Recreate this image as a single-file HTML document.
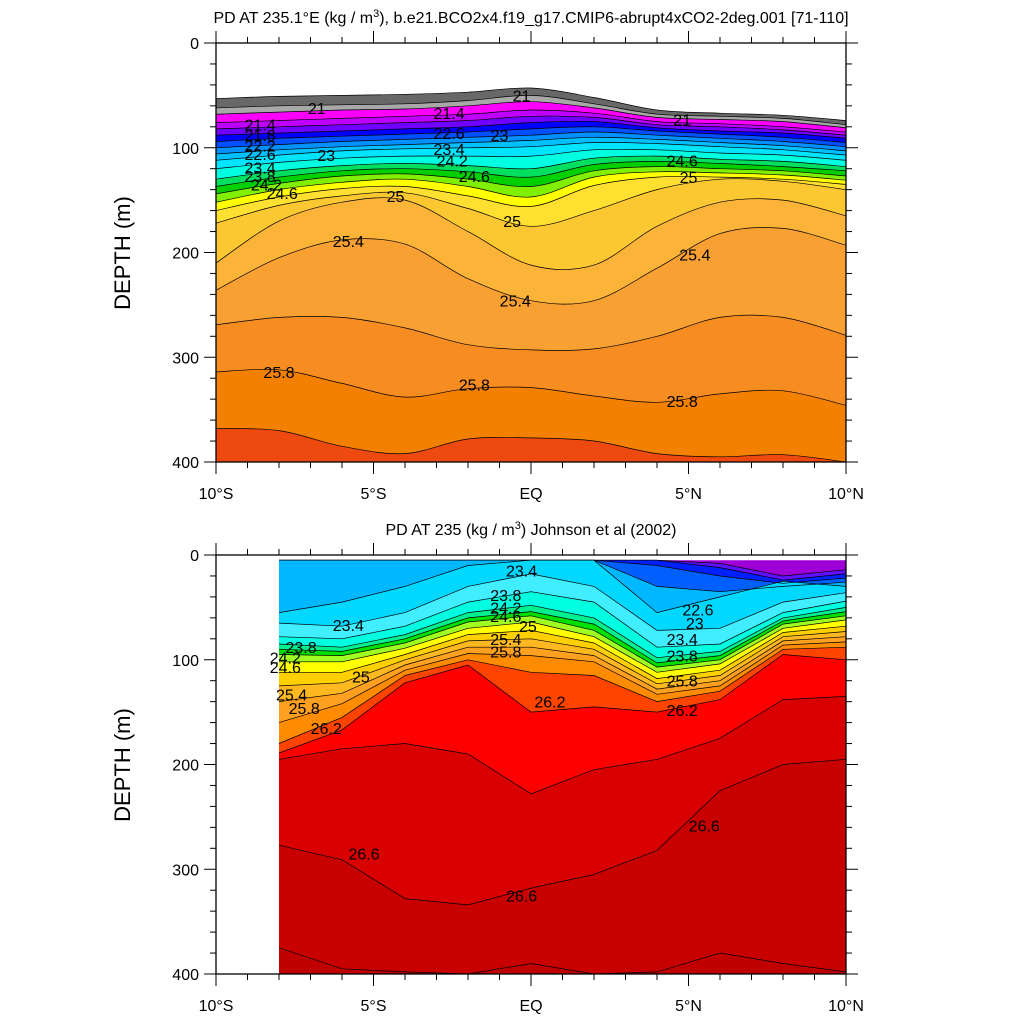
<!DOCTYPE html>
<html><head><meta charset="utf-8">
<style>
body{margin:0;background:#fff;}
svg{display:block;font-family:"Liberation Sans",sans-serif;}
</style></head>
<body>
<svg id="chart" width="1024" height="1024" viewBox="0 0 1024 1024" xmlns="http://www.w3.org/2000/svg">
<rect width="1024" height="1024" fill="#fff"/>
<text x="531" y="23" font-size="16" text-anchor="middle">PD AT 235.1°E (kg / m<tspan dy="-6" font-size="11">3</tspan><tspan dy="6">), b.e21.BCO2x4.f19_g17.CMIP6-abrupt4xCO2-2deg.001 [71-110]</tspan></text>
<text x="531" y="535" font-size="16" text-anchor="middle">PD AT 235 (kg / m<tspan dy="-6" font-size="11">3</tspan><tspan dy="6">) Johnson et al (2002)</tspan></text>
<g id="top"></g>
<g id="bot"></g>
</svg>
<script>
// ---- Top panel (model) data ----
const topLats = [-10,-8,-6,-4,-2,0,2,4,6,8,10];
const topLevels = [20.8,21,21.4,21.8,22.2,22.6,22.8,23,23.2,23.4,23.8,24.2,24.4,24.6,24.8,25,25.1,25.2,25.4,25.6,25.8,26];
const topColors = ['#686868','#a8a8a8','#ff00ff','#c000ff','#7000ff','#0000ff','#0050ff','#0090ff','#00c0ff','#00e4ff','#00ffe0','#00e060','#00d000','#80f000','#ffff00','#ffe030','#fcc832','#fbb437','#f9a033','#f78d20','#f48000','#ee4a10'];
const topDepths = [
 [53,51,50,49,47,43,52,64,67,69,74],
 [62,60,59,58,55,50,58,68,70,72,78],
 [68,66,64,63,60,56,62,71,73,75,81],
 [76,74,72,70,68,64,67,75,77,80,85],
 [82,80,78,76,74,70,71,78,80,83,88],
 [88,86,84,82,80,76,75,81,84,86,91],
 [94,91,89,87,85,82,80,84,87,90,95],
 [100,97,94,92,90,88,85,88,91,94,99],
 [106,102,99,97,95,93,90,92,95,98,103],
 [112,107,103,101,100,99,95,96,99,102,107],
 [120,114,110,108,108,108,102,102,105,107,112],
 [130,122,117,115,117,120,110,108,111,113,118],
 [137,128,122,120,123,128,116,113,115,118,122],
 [144,134,127,125,130,137,122,118,120,122,127],
 [152,140,133,130,137,147,128,123,124,126,131],
 [160,147,139,137,146,156,136,128,128,130,135],
 [172,155,146,143,158,175,160,140,130,132,140],
 [210,170,152,150,180,212,212,175,152,150,165],
 [236,205,188,192,225,246,246,215,182,177,193],
 [269,262,262,272,288,293,292,280,262,262,279],
 [314,312,325,338,330,329,337,343,335,332,346],
 [368,370,385,392,378,377,380,392,395,393,400]
];
// ---- Bottom panel (observations) data ----
const botLats = [-8,-6,-4,-2,0,2,4,6,8,10];
const botLevels = [22.2,22.4,22.6,22.8,23.0,23.2,23.4,23.8,24.2,24.4,24.6,24.8,25.2,25.4,25.6,25.8,26.0,26.2,26.4,26.6,26.8];
const botColors = ['#a000d8','#6010ff','#0020ff','#0060ff','#00b8ff','#00d8ff','#40eeff','#00ffe0','#00f090','#00e000','#a0ff20','#ffff00','#ffd000','#ffb820','#ffa020','#ff8c00','#ff4400','#ff0000','#d80000','#c80000','#c00000'];
const botDepths = [
 [5,5,5,5,5,5,5,5,5,5],
 [5,5,5,5,5,5,5,8,20,14],
 [5,5,5,5,5,5,5,12,24,18],
 [5,5,5,5,5,5,10,20,27,22],
 [5,5,5,5,5,5,30,35,30,26],
 [55,45,30,10,5,5,55,40,25,30],
 [65,68,55,30,18,30,72,70,45,36],
 [78,80,68,45,35,45,88,85,55,44],
 [85,88,76,55,48,60,98,92,60,50],
 [90,92,80,60,54,66,103,96,63,54],
 [95,96,84,64,58,72,107,100,66,58],
 [102,102,89,70,64,78,112,104,70,62],
 [112,112,95,76,72,84,118,110,74,68],
 [125,122,100,82,80,90,123,115,78,73],
 [140,132,105,88,88,96,128,120,82,78],
 [160,142,110,94,96,102,133,125,86,83],
 [180,155,115,100,112,115,140,130,90,88],
 [189,167,122,105,150,145,150,138,95,100],
 [195,185,180,190,228,205,195,175,138,135],
 [277,291,328,334,318,305,282,225,200,195],
 [375,395,398,400,390,400,398,380,390,398]
];
const topLabels = [[-6.8,62,'21'],[-0.3,50,'21'],[-8.6,78,'21.4'],[-8.6,88,'21.8'],[-8.6,98,'22.2'],[-8.6,106,'22.6'],[-6.5,107,'23'],[-8.6,119,'23.4'],[-8.6,127,'23.8'],[-8.4,135,'24.2'],[-7.9,143,'24.6'],[-4.3,146,'25'],[-2.6,67,'21.4'],[-2.6,86,'22.6'],[-1,88,'23'],[-2.6,101,'23.4'],[-2.5,112,'24.2'],[-1.8,127,'24.6'],[-0.6,170,'25'],[-5.8,189,'25.4'],[-0.5,246,'25.4'],[5.2,202,'25.4'],[-8,314,'25.8'],[-1.8,326,'25.8'],[4.8,342,'25.8'],[4.8,73,'21'],[4.8,112,'24.6'],[5,128,'25']];
const botLabels = [[-5.8,67,'23.4'],[-7.3,88,'23.8'],[-7.8,98,'24.2'],[-7.8,107,'24.6'],[-5.4,116,'25'],[-7.6,133,'25.4'],[-7.2,146,'25.8'],[-6.5,165,'26.2'],[-0.3,15,'23.4'],[-0.8,38,'23.8'],[-0.8,50,'24.2'],[-0.8,58,'24.6'],[-0.1,68,'25'],[-0.8,80,'25.4'],[-0.8,92,'25.8'],[0.6,140,'26.2'],[5.3,52,'22.6'],[5.2,65,'23'],[4.8,80,'23.4'],[4.8,96,'23.8'],[4.8,120,'25.8'],[4.8,148,'26.2'],[5.5,258,'26.6'],[-5.3,285,'26.6'],[-0.3,325,'26.6']];

const NS='http://www.w3.org/2000/svg';
function mk(tag,attrs,parent){const e=document.createElementNS(NS,tag);for(const k in attrs)e.setAttribute(k,attrs[k]);parent.appendChild(e);return e;}
const X0=216,X1=846;
function xScale(lat){return X0+(lat+10)/20*(X1-X0);}
function yScaleF(y0){return d=>y0+d/400*419;}

function smoothPath(pts){
  let s='M'+pts[0][0]+','+pts[0][1];
  for(let i=0;i<pts.length-1;i++){
    const p0=pts[Math.max(0,i-1)],p1=pts[i],p2=pts[i+1],p3=pts[Math.min(pts.length-1,i+2)];
    const c1=[p1[0]+(p2[0]-p0[0])/6,p1[1]+(p2[1]-p0[1])/6];
    const c2=[p2[0]-(p3[0]-p1[0])/6,p2[1]-(p3[1]-p1[1])/6];
    s+=' C'+c1[0].toFixed(1)+','+c1[1].toFixed(1)+' '+c2[0].toFixed(1)+','+c2[1].toFixed(1)+' '+p2[0].toFixed(1)+','+p2[1].toFixed(1);
  }
  return s;
}
function linePath(pts){return 'M'+pts.map(p=>p[0].toFixed(1)+','+p[1].toFixed(1)).join(' L');}

function drawPanel(g,y0,lats,levels,colors,depths,smooth,labels,lineStart){
  const ys=yScaleF(y0);
  const clip=mk('clipPath',{id:'clip'+y0},g);
  mk('rect',{x:X0,y:y0,width:X1-X0,height:419},clip);
  const body=mk('g',{'clip-path':'url(#clip'+y0+')'},g);
  const pathFn=smooth?smoothPath:linePath;
  const xl=xScale(lats[0]),xr=xScale(lats[lats.length-1]);
  for(let i=0;i<levels.length;i++){
    const pts=depths[i].map((d,j)=>[xScale(lats[j]),ys(d)]);
    const f=mk('path',{d:pathFn(pts)+' L'+xr+','+(ys(400)+2)+' L'+xl+','+(ys(400)+2)+' Z',fill:colors[i]},body);
    
    
  }
  for(let i=lineStart;i<levels.length;i++){
    const pts=depths[i].map((d,j)=>[xScale(lats[j]),ys(d)]);
    const l=mk('path',{d:pathFn(pts),fill:'none',stroke:'#000','stroke-width':0.7},body);
    
    
  }
  labels.forEach(lb=>{
    const t=mk('text',{x:xScale(lb[0]),y:ys(lb[1])+6,'font-size':16,'text-anchor':'middle'},body);
    t.textContent=lb[2];
    
    
  });
  const fr=mk('rect',{x:X0,y:y0,width:X1-X0,height:419,fill:'none',stroke:'#000','stroke-width':1.3},g);
  
  
  for(let d=0;d<=400;d+=20){
    const major=d%100===0, len=major?12:6, y=ys(d);
    mk('line',{x1:X0-len,x2:X0,y1:y,y2:y,stroke:'#000','stroke-width':1},g);
    mk('line',{x1:X1,x2:X1+len,y1:y,y2:y,stroke:'#000','stroke-width':1},g);
    if(major){
      const t=mk('text',{x:X0-17,y:y+6,'font-size':16,'text-anchor':'end'},g);
      t.textContent=String(d);
      
      
    }
  }
  const xl2=['10°S','5°S','EQ','5°N','10°N'];
  for(let lat=-10;lat<=10;lat++){
    const major=lat%5===0,len=major?12:6,x=xScale(lat);
    mk('line',{x1:x,x2:x,y1:y0-len,y2:y0,stroke:'#000','stroke-width':1},g);
    mk('line',{x1:x,x2:x,y1:ys(400),y2:ys(400)+len,stroke:'#000','stroke-width':1},g);
    if(major){
      const t=mk('text',{x:x,y:ys(400)+37,'font-size':16,'text-anchor':'middle'},g);
      t.textContent=xl2[(lat+10)/5];
      
      
    }
  }
  const yt=mk('text',{x:0,y:0,'font-size':22,'text-anchor':'middle',transform:'translate(130,'+(y0+210)+') rotate(-90)'},g);
  yt.textContent='DEPTH (m)';
  
  
}
drawPanel(document.getElementById('top'),43,topLats,topLevels,topColors,topDepths,true,topLabels,0);
drawPanel(document.getElementById('bot'),555,botLats,botLevels,botColors,botDepths,false,botLabels,1);
</script>
</body></html>
